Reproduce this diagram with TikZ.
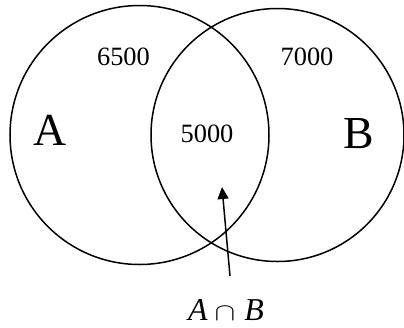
\documentclass[tikz,border=0pt]{standalone}
\usepackage{fontspec}
\setmainfont{Liberation Serif}
\usetikzlibrary{arrows.meta}
\begin{document}
\begin{tikzpicture}[x=1bp,y=-1bp,
  setcircle/.style={draw,circle,line width=1.5bp,inner sep=0pt},
  numlabel/.style={inner sep=0pt,anchor=base,font=\fontsize{26.5}{30}\selectfont},
  setname/.style={inner sep=0pt,anchor=base,font=\fontsize{46}{50}\selectfont},
  pointer/.style={line width=1.5bp,-{Triangle[length=12bp,width=11bp]}}]
\useasboundingbox (0,0) rectangle (404,328);
\node[setcircle,minimum size=259bp] (cA) at (139.5,135) {};
\node[setcircle,minimum size=253bp] (cB) at (277.5,135) {};
\node[numlabel] (n6500) at (123.5,65) {6500};
\node[numlabel] (n7000) at (307,65) {7000};
\node[numlabel] (n5000) at (207,142) {5000};
\node[setname] (lA) at (50,145) {A};
\node[setname] (lB) at (358.5,148) {B};
\node[inner sep=0pt,anchor=base,font=\fontsize{32}{36}\selectfont] (lab) at (226,320)
  {\textit{A}\hspace{7bp}\scalebox{1.25}[1]{$\cap$}\hspace{9bp}\textit{B}};
\coordinate (tail) at (230,276);
\coordinate (tip) at (222,187);
\draw[pointer] (tail) -- (tip);
\end{tikzpicture}
\end{document}
